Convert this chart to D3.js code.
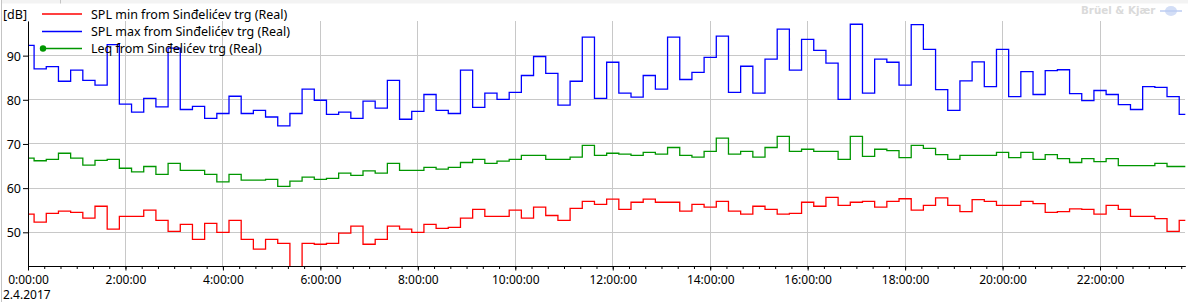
<!DOCTYPE html>
<html><head><meta charset="utf-8">
<script src="https://cdn.jsdelivr.net/npm/d3@7"></script>
<style>
html,body{margin:0;padding:0;background:#fff;}
svg{display:block;font-family:"Noto Sans",sans-serif;}
</style></head><body>
<svg id="c" width="1188" height="302"></svg>
<script>
const seriesNames = ["SPL min from Sinđelićev trg (Real)", "SPL max from Sinđelićev trg (Real)", "Leq from Sinđelićev trg (Real)"];
const seriesColors = ["#ff0000", "#0000ff", "#009600"];

const splMin = [54.1,52.3,54.3,54.8,54.5,53.2,55.9,50.7,53.6,53.6,55.0,52.7,50.2,51.8,48.4,52.0,50.0,52.7,48.4,46.2,48.4,47.5,41.0,47.5,
47.3,47.5,49.8,51.4,47.3,48.4,51.4,50.7,50.0,51.8,50.9,51.1,53.2,55.2,53.6,53.6,55.0,53.2,55.7,53.8,52.7,55.4,57.0,56.3,
57.5,55.2,56.8,57.5,56.8,56.8,54.8,56.3,55.7,57.0,54.8,54.1,55.9,55.2,54.1,54.3,56.8,55.9,57.9,56.1,56.8,57.0,55.7,57.0,
57.6,55.0,56.1,57.8,56.1,54.7,57.4,57.0,56.1,56.1,57.0,56.5,54.5,54.7,55.3,55.2,54.1,56.1,55.2,53.6,53.6,53.1,50.2,52.7];

const splMax = [92.3,87.0,87.5,84.2,86.7,84.4,83.3,92.5,79.0,77.2,80.3,78.4,91.7,77.8,78.5,75.8,76.9,80.8,76.9,77.6,76.1,74.1,76.9,82.4,
79.9,76.7,77.2,75.8,79.7,78.1,84.4,75.6,77.4,81.2,77.6,76.9,86.7,78.3,81.5,80.1,81.7,85.5,89.8,86.0,78.8,84.2,94.2,80.3,
88.5,81.5,80.6,85.5,82.4,94.2,84.6,86.2,89.6,94.4,81.7,87.6,81.5,89.2,96.0,86.7,93.7,91.2,88.3,80.1,97.1,81.5,89.2,88.5,
83.3,97.0,91.4,82.3,77.6,84.3,88.6,83.0,91.4,80.7,86.4,81.2,86.6,86.8,81.4,79.8,82.1,81.2,78.9,77.8,83.0,82.8,80.7,76.7];

const leq = [66.8,66.2,66.5,67.9,66.8,65.2,66.3,66.5,64.5,63.7,64.9,63.1,65.6,64.0,64.0,63.1,61.4,63.1,61.8,61.8,62.0,60.4,61.6,62.5,
62.0,62.2,63.4,62.9,63.9,63.4,65.6,64.0,64.0,64.7,64.3,64.7,65.8,66.5,65.6,66.1,66.5,67.4,67.4,66.5,66.5,67.0,69.7,67.4,
67.9,67.7,67.4,68.1,67.7,69.2,67.4,67.0,68.3,71.3,67.7,68.3,67.0,69.2,71.7,68.3,68.8,68.3,68.3,66.5,71.7,67.2,68.8,68.5,
66.9,69.7,69.0,67.6,66.5,67.4,67.4,67.4,68.1,66.9,68.1,66.5,67.6,66.7,65.8,66.7,66.0,66.7,65.1,65.1,65.1,65.6,64.9,64.9];

const yTicks = [50, 60, 70, 80, 90];
const xTickLabels = ["0:00:00","2:00:00","4:00:00","6:00:00","8:00:00","10:00:00","12:00:00","14:00:00","16:00:00","18:00:00","20:00:00","22:00:00"];
const dateLabel = "2.4.2017";
const unitLabel = "[dB]";
const brandLabel = "Brüel & Kjær";
const startTime = Date.UTC(2017, 3, 2, 0, 0, 0);
const stepMinutes = 15;

const svg = d3.select("#c");
const times = splMin.map((_, i) => new Date(startTime + i * stepMinutes * 60000));
const x = d3.scaleUtc().domain(d3.extent(times)).range([28, 1185.3]);
const y = d3.scaleLinear().domain([42.37, 97.84]).range([266, 21]);
const xTickDates = xTickLabels.map((_, i) => new Date(startTime + i * 2 * 3600000));

// window chrome
svg.append("rect").attr("x", 2).attr("y", 0).attr("width", 1186).attr("height", 3.5).attr("fill", "#f3f3f3");
svg.append("line").attr("x1", 60.5).attr("x2", 60.5).attr("y1", 0).attr("y2", 3.5).attr("stroke", "#c4c4c4");
svg.append("line").attr("x1", 1.5).attr("x2", 1.5).attr("y1", 0).attr("y2", 302).attr("stroke", "#c4c4c4");

// gridlines
const grid = svg.append("g").attr("stroke", "#c8c8c8").attr("stroke-width", 1).attr("shape-rendering", "crispEdges");
grid.selectAll("line.h").data(yTicks).join("line")
  .attr("x1", x.range()[0]).attr("x2", x.range()[1])
  .attr("y1", d => y(d)).attr("y2", d => y(d));
grid.selectAll("line.v").data(xTickDates).join("line")
  .attr("x1", d => x(d)).attr("x2", d => x(d))
  .attr("y1", y.range()[1]).attr("y2", y.range()[0]);

// clip
svg.append("clipPath").attr("id", "plotclip").append("rect")
  .attr("x", x.range()[0]).attr("y", y.range()[1])
  .attr("width", x.range()[1] - x.range()[0] + 1).attr("height", y.range()[0] - y.range()[1]);

const line = d3.line().x(d => x(d.t)).y(d => y(d.v)).curve(d3.curveStep);
const allSeries = [splMin, splMax, leq];
const plot = svg.append("g").attr("clip-path", "url(#plotclip)");
allSeries.forEach((s, i) => {
  plot.append("path")
    .datum(s.map((v, j) => ({t: times[j], v})))
    .attr("fill", "none").attr("stroke", seriesColors[i]).attr("stroke-width", 1.3)
    .attr("d", line);
});

// axes
const fontSize = "12.5px";
const xMinor = svg.append("g").attr("transform", `translate(0,266)`)
  .call(d3.axisBottom(x).ticks(d3.utcMinute.every(20)).tickSize(3).tickSizeOuter(0).tickFormat(""));
xMinor.select(".domain").remove();
xMinor.selectAll("line").attr("stroke", "#000");

const xAxis = svg.append("g").attr("transform", `translate(0,266)`)
  .call(d3.axisBottom(x).tickValues(xTickDates).tickFormat((d, i) => xTickLabels[i]).tickSize(4.5).tickSizeOuter(0));
xAxis.selectAll("text").attr("y", 17.5).attr("dy", null)
  .attr("font-size", "12px").attr("font-family", "Noto Sans").attr("fill", "#000");
xAxis.selectAll("line,path").attr("stroke", "#000");

const yAxis = svg.append("g").attr("transform", `translate(28,0)`)
  .call(d3.axisLeft(y).tickValues(yTicks).tickSize(5).tickPadding(2).tickSizeOuter(0));
yAxis.selectAll("text").attr("dy", "0.35em")
  .attr("font-size", fontSize).attr("font-family", "Noto Sans").attr("fill", "#000");
yAxis.selectAll("line,path").attr("stroke", "#000");

svg.append("text").attr("x", 3).attr("y", 299).attr("font-size", "12px").attr("fill", "#000").text(dateLabel);
svg.append("text").attr("x", 3).attr("y", 18.5).attr("font-size", fontSize).attr("fill", "#000").text(unitLabel);

// legend
const legendY = [14, 31.5, 48.5];
const legend = svg.append("g");
seriesNames.forEach((name, i) => {
  const g = legend.append("g").attr("transform", `translate(0,${legendY[i]})`);
  g.append("line").attr("x1", 42).attr("x2", 82).attr("y1", 0).attr("y2", 0)
    .attr("stroke", seriesColors[i]).attr("stroke-width", 1.3);
  if (i === 2) g.append("circle").attr("cx", 43).attr("cy", 0).attr("r", 3.2).attr("fill", seriesColors[i]);
  g.append("text").attr("x", 91).attr("y", 4.5).attr("font-size", fontSize).attr("fill", "#000").text(name);
});

// watermark
svg.append("text").attr("x", 1081).attr("y", 14).attr("font-family", "DejaVu Sans").attr("font-weight", "bold")
  .attr("font-size", "10.3px").attr("fill", "#dadada").text(brandLabel);
const logo = svg.append("g").attr("transform", "translate(1171,11)");
logo.append("ellipse").attr("rx", 6).attr("ry", 5).attr("fill", "#d3def6");
logo.append("line").attr("x1", -11).attr("x2", 11).attr("y1", 0).attr("y2", 0).attr("stroke", "#bccdf2").attr("stroke-width", 1.5);
</script>
</body></html>
